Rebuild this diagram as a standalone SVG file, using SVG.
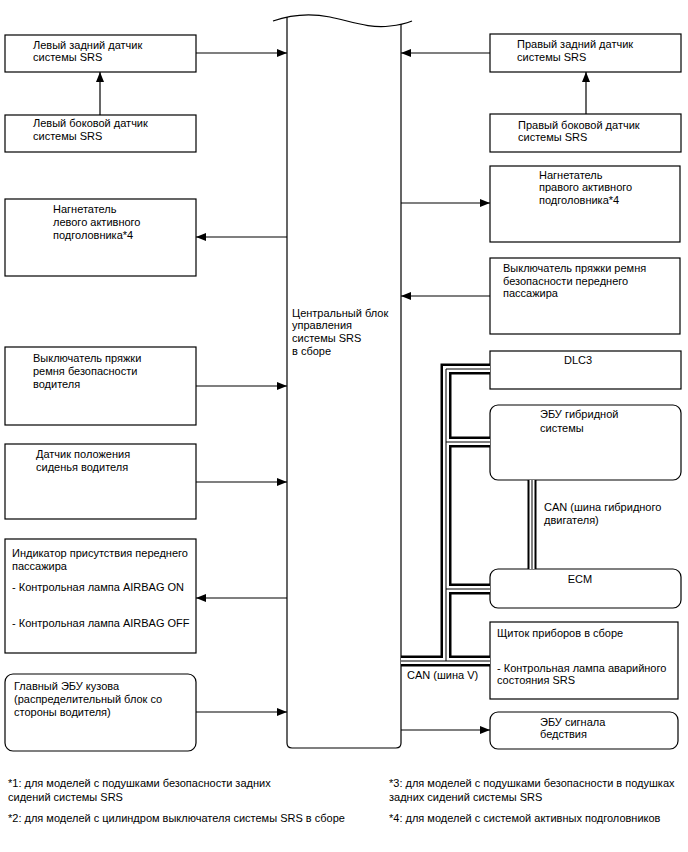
<svg xmlns="http://www.w3.org/2000/svg" width="688" height="852" viewBox="0 0 688 852">
<style>
  .box { fill: #fff; stroke: #000; stroke-width: 1.2; }
  text { font-family: "Liberation Sans", Arial, sans-serif; font-size: 11px; fill: #000; }
  .ln { stroke: #000; stroke-width: 1.2; fill: none; }
  .busb { stroke: #000; fill: none; stroke-linejoin: miter; stroke-linecap: butt; }
  .busw { stroke: #fff; fill: none; stroke-linejoin: miter; stroke-linecap: butt; }
  .busc { stroke: #000; stroke-width: 1; fill: none; }
</style>
<defs>
  <marker id="arr" viewBox="0 0 10 8" refX="10" refY="4" markerWidth="10" markerHeight="8" markerUnits="userSpaceOnUse" orient="auto">
    <path d="M0,0 L10,4 L0,8 Z" fill="#000"/>
  </marker>
</defs>
<rect width="688" height="852" fill="#fff"/>

<g id="central">
  <path class="box" d="M287,17 V743 Q287,748 292,748 H396 Q401,748 401,743 V24" fill="#fff"/>
  <path class="ln" d="M273,21 C290,15 310,13 330,17 C350,21 370,29 390,26 C400,25 407,23 412,21"/>
  <text x="292" y="317">Центральный блок</text>
  <text x="292" y="329">управления</text>
  <text x="292" y="342">системы SRS</text>
  <text x="292" y="355">в сборе</text>
</g>

<g id="left-rear-sensor">
  <rect class="box" x="5" y="35" width="191" height="37"/>
  <text x="33" y="49">Левый задний датчик</text>
  <text x="33" y="61">системы SRS</text>
</g>
<g id="left-side-sensor">
  <rect class="box" x="5" y="115" width="191" height="37"/>
  <text x="33" y="127">Левый боковой датчик</text>
  <text x="33" y="140">системы SRS</text>
</g>
<g id="left-headrest">
  <rect class="box" x="5" y="199" width="191" height="77"/>
  <text x="53" y="213">Нагнетатель</text>
  <text x="53" y="226">левого активного</text>
  <text x="53" y="239">подголовника*4</text>
</g>
<g id="driver-buckle">
  <rect class="box" x="5" y="347" width="191" height="78"/>
  <text x="33" y="362">Выключатель пряжки</text>
  <text x="33" y="375">ремня безопасности</text>
  <text x="33" y="388">водителя</text>
</g>
<g id="seat-position">
  <rect class="box" x="5" y="444" width="191" height="75"/>
  <text x="36" y="458">Датчик положения</text>
  <text x="36" y="471">сиденья водителя</text>
</g>
<g id="occupant-indicator">
  <rect class="box" x="5" y="539" width="191" height="114"/>
  <text x="12" y="557">Индикатор присутствия переднего</text>
  <text x="12" y="570">пассажира</text>
  <text x="12" y="591">- Контрольная лампа AIRBAG ON</text>
  <text x="12" y="627">- Контрольная лампа AIRBAG OFF</text>
</g>
<g id="main-body-ecu">
  <rect class="box" x="5" y="674" width="191" height="77" rx="8"/>
  <text x="14" y="690">Главный ЭБУ кузова</text>
  <text x="14" y="703">(распределительный блок со</text>
  <text x="14" y="716">стороны водителя)</text>
</g>

<g id="right-rear-sensor">
  <rect class="box" x="490" y="34" width="191" height="38"/>
  <text x="517" y="48">Правый задний датчик</text>
  <text x="517" y="61">системы SRS</text>
</g>
<g id="right-side-sensor">
  <rect class="box" x="490" y="114" width="191" height="38"/>
  <text x="518" y="129">Правый боковой датчик</text>
  <text x="518" y="141">системы SRS</text>
</g>
<g id="right-headrest">
  <rect class="box" x="490" y="166" width="190" height="76"/>
  <text x="539" y="179">Нагнетатель</text>
  <text x="539" y="191">правого активного</text>
  <text x="539" y="204">подголовника*4</text>
</g>
<g id="passenger-buckle">
  <rect class="box" x="490" y="258" width="190" height="76"/>
  <text x="503" y="272">Выключатель пряжки ремня</text>
  <text x="503" y="285">безопасности переднего</text>
  <text x="503" y="297">пассажира</text>
</g>
<g id="dlc3">
  <rect class="box" x="490" y="351" width="191" height="38"/>
  <text x="578" y="364" text-anchor="middle">DLC3</text>
</g>
<g id="hybrid-ecu">
  <rect class="box" x="490" y="405" width="191" height="75" rx="8"/>
  <text x="540" y="418">ЭБУ гибридной</text>
  <text x="540" y="432">системы</text>
</g>
<g id="ecm">
  <rect class="box" x="490" y="569" width="191" height="39" rx="8"/>
  <text x="580" y="583" text-anchor="middle">ECM</text>
</g>
<g id="combination-meter">
  <rect class="box" x="490" y="622" width="188" height="77"/>
  <text x="497" y="637">Щиток приборов в сборе</text>
  <text x="497" y="672">- Контрольная лампа аварийного</text>
  <text x="497" y="684">состояния SRS</text>
</g>
<g id="emergency-ecu">
  <rect class="box" x="490" y="712" width="188" height="37" rx="8"/>
  <text x="540" y="726">ЭБУ сигнала</text>
  <text x="540" y="738">бедствия</text>
</g>

<g id="connectors">
  <line class="ln" x1="196" y1="53" x2="287" y2="53" marker-end="url(#arr)"/>
  <line class="ln" x1="100" y1="115" x2="100" y2="72" marker-end="url(#arr)"/>
  <line class="ln" x1="287" y1="237" x2="196" y2="237" marker-end="url(#arr)"/>
  <line class="ln" x1="196" y1="386" x2="287" y2="386" marker-end="url(#arr)"/>
  <line class="ln" x1="196" y1="482" x2="287" y2="482" marker-end="url(#arr)"/>
  <line class="ln" x1="287" y1="598" x2="196" y2="598" marker-end="url(#arr)"/>
  <line class="ln" x1="196" y1="712" x2="287" y2="712" marker-end="url(#arr)"/>
  <line class="ln" x1="490" y1="53" x2="401" y2="53" marker-end="url(#arr)"/>
  <line class="ln" x1="586" y1="114" x2="586" y2="72" marker-end="url(#arr)"/>
  <line class="ln" x1="401" y1="203" x2="490" y2="203" marker-end="url(#arr)"/>
  <line class="ln" x1="490" y1="296" x2="401" y2="296" marker-end="url(#arr)"/>
  <line class="ln" x1="401" y1="730" x2="490" y2="730" marker-end="url(#arr)"/>

  <g id="can-v-bus">
    <g class="busb" stroke-width="11">
      <path d="M490,369 H446 V661"/>
      <path d="M401,661 H490"/>
      <path d="M446,442 H490"/>
      <path d="M446,589 H490"/>
    </g>
    <g class="busw" stroke-width="6">
      <path d="M490,369 H446 V661"/>
      <path d="M401,661 H490"/>
      <path d="M446,442 H490"/>
      <path d="M446,589 H490"/>
    </g>
    <g class="busc">
      <path d="M490,369 H446 V661"/>
      <path d="M401,661 H490"/>
      <path d="M446,442 H490"/>
      <path d="M446,589 H490"/>
    </g>
  </g>
  <g id="can-hybrid-bus">
    <path class="busb" stroke-width="9" d="M532,480 V569"/>
    <path class="busw" stroke-width="5" d="M532,480 V569"/>
    <path class="busc" d="M532,480 V569"/>
  </g>
  <text x="407" y="679">CAN (шина V)</text>
  <text x="544" y="511">CAN (шина гибридного</text>
  <text x="544" y="524">двигателя)</text>
</g>

<g id="notes">
  <text x="8" y="787">*1: для моделей с подушками безопасности задних</text>
  <text x="8" y="801">сидений системы SRS</text>
  <text x="8" y="822">*2: для моделей с цилиндром выключателя системы SRS в сборе</text>
  <text x="389" y="787">*3: для моделей с подушками безопасности в подушках</text>
  <text x="389" y="801">задних сидений системы SRS</text>
  <text x="389" y="822">*4: для моделей с системой активных подголовников</text>
</g>
</svg>
